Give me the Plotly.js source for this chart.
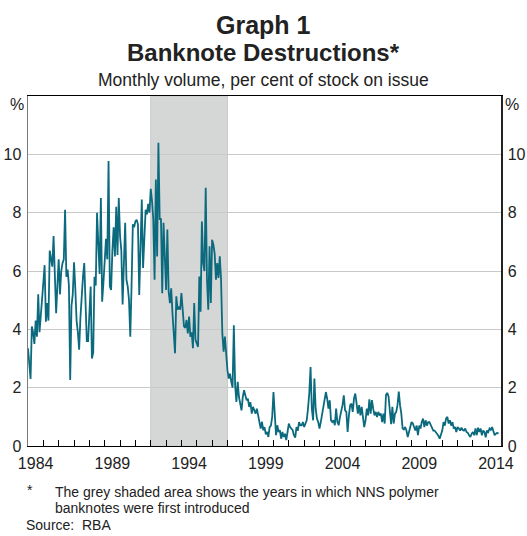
<!DOCTYPE html>
<html>
<head>
<meta charset="utf-8">
<script src="https://cdn.plot.ly/plotly-3.0.1.min.js"></script>
<style>html,body{margin:0;padding:0;background:#fff;}#chart{width:527px;height:536px;}</style>
</head>
<body>
<div id="chart"></div>
<script>
// ---- data ----
const startYear = 1984;           // first observation: January 1984, monthly
const volume = [
  3.35, 2.9, 2.3, 4.1, 3.9, 3.5, 4.3, 3.75, 5.2, 3.9, 4.6, 5.1,          // 1984
  5.6, 6.2, 4.26, 4.9, 4.3, 6.7, 6.4, 6.15, 7.2, 6.15, 4.55, 5.5,        // 1985
  6.4, 5.2, 6.0, 6.27, 6.4, 8.1, 5.8, 6.05, 5.5, 2.26, 4.8, 5.2,         // 1986
  6.3, 5.4, 4.3, 3.9, 3.3, 4.4, 5.3, 5.8, 6.27, 4.5, 3.6, 3.6,           // 1987
  4.6, 5.47, 3.0, 3.2, 5.8, 5.5, 8.0, 6.8, 5.9, 8.5, 4.95, 5.6,         // 1988
  6.27, 7.1, 6.4, 9.77, 5.47, 5.35, 6.7, 7.5, 6.5, 8.2, 6.55, 8.5,      // 1989
  7.2, 6.7, 4.85, 6.5, 7.65, 5.7, 5.47, 5.0, 3.75, 5.5, 7.6, 7.5,       // 1990
  7.7, 7.76, 7.6, 5.18, 7.07, 8.45, 6.1, 7.0, 8.1, 7.94, 8.3, 8.0,      // 1991
  8.82, 8.4, 7.76, 5.7, 9.14, 6.5, 10.4, 7.76, 7.8, 5.24, 7.65, 6.5,    // 1992
  5.35, 7.42, 5.3, 4.9, 5.41, 4.55, 3.9, 3.18, 5.13, 4.67, 4.78, 4.67,  // 1993
  5.24, 4.44, 4.1, 4.05, 4.32, 3.86, 4.44, 3.75, 3.9, 3.35, 4.9, 3.64,  // 1994
  3.52, 3.4, 5.81, 4.6, 7.7, 6.27, 6.0, 8.85, 5.7, 4.67, 6.85, 4.9,     // 1995
  7.07, 6.9, 6.6, 5.7, 6.27, 5.76, 6.5, 5.7, 3.86, 3.23, 3.75, 2.95,    // 1996
  2.6, 2.31, 2.48, 2.2, 2.0, 4.14, 2.08, 1.51, 2.2, 1.68, 1.4, 1.22,    // 1997
  1.68, 1.91, 1.74, 1.57, 1.62, 1.34, 1.5, 1.11, 1.34, 1.22, 1.11, 1.28,// 1998
  1.05, 0.88, 0.6, 0.83, 0.54, 0.65, 0.4, 0.48, 0.31, 0.65, 0.7, 1.0,   // 1999
  1.85, 1.11, 0.37, 0.71, 0.48, 0.54, 0.25, 0.48, 0.31, 0.42, 0.2, 0.48,// 2000
  0.77, 0.65, 0.6, 0.54, 0.37, 0.29, 0.65, 0.52, 0.82, 0.71, 0.71, 0.82,// 2001
  0.65, 0.77, 0.88, 1.28, 1.8, 2.71, 1.28, 0.88, 2.31, 1.28, 0.94, 0.82,// 2002
  0.6, 0.82, 1.05, 1.34, 1.62, 1.85, 1.62, 1.28, 1.57, 0.88, 0.82, 0.88,// 2003
  0.71, 1.28, 0.82, 0.71, 0.99, 1.17, 1.4, 1.74, 1.22, 1.17, 0.48, 1.05,// 2004
  1.4, 1.45, 1.17, 1.63, 1.8, 1.45, 1.11, 1.4, 1.05, 1.34, 0.88, 0.65,  // 2005
  0.88, 1.28, 1.05, 1.6, 1.11, 1.57, 1.28, 1.05, 1.17, 0.99, 1.17, 1.05,// 2006
  1.11, 0.82, 1.11, 0.77, 1.75, 1.82, 1.7, 1.2, 0.75, 1.34, 0.77, 1.1,  // 2007
  1.17, 1.4, 1.87, 1.4, 1.1, 0.6, 0.57, 0.65, 0.53, 0.31, 0.48, 0.6,    // 2008
  0.82, 0.77, 0.65, 0.53, 0.7, 0.37, 0.7, 0.6, 0.82, 0.94, 0.65, 0.88,  // 2009
  0.7, 0.82, 0.82, 0.7, 0.6, 0.53, 0.53, 0.48, 0.42, 0.35, 0.25, 0.42,  // 2010
  0.53, 0.82, 0.7, 0.94, 1.0, 0.77, 0.88, 0.7, 0.82, 0.6, 0.65, 0.48,   // 2011
  0.65, 0.6, 0.53, 0.63, 0.55, 0.53, 0.6, 0.48, 0.45, 0.37, 0.31, 0.42, // 2012
  0.48, 0.37, 0.6, 0.37, 0.63, 0.48, 0.6, 0.37, 0.53, 0.48, 0.3, 0.53,  // 2013
  0.48, 0.6, 0.55, 0.65, 0.5, 0.37, 0.42, 0.45, 0.42                     // 2014
];
const shadeYears = [1992, 1997];          // NNS polymer introduction period
const xRange = [1984, 2014.83];
const yRange = [0, 12];
const yTicks = [0, 2, 4, 6, 8, 10];
const xLabelYears = [1984, 1989, 1994, 1999, 2004, 2009, 2014];
const titleText = 'Graph 1';
const subtitleText = 'Banknote Destructions*';
const unitText = 'Monthly volume, per cent of stock on issue';
const noteLines = ['The grey shaded area shows the years in which NNS polymer', 'banknotes were first introduced'];
const sourceText = 'RBA';

// ---- derived ----
const xs = volume.map((v, i) => startYear + i / 12);
const tickYears = [];
for (let y = Math.ceil(xRange[0]) + 1; y <= Math.floor(xRange[1]); y++) tickYears.push(y);
const labelPos = xLabelYears.map(y => y + 0.5);
const labelText = xLabelYears.map(String);

const W = 527, H = 536, L = 28, R = 26, T = 96, B = 90;
const pw = W - L - R, ph = H - T - B;
const px = x => (x - L) / pw;
const py = y => (H - B - y) / ph;
const FONT = 'Arial, "Liberation Sans", Helvetica, sans-serif';
const TXT = '#222';

const traces = [
  {x: xs, y: volume, type: 'scatter', mode: 'lines',
   line: {color: '#0b6a7e', width: 1.8}, hoverinfo: 'skip', showlegend: false},
  {x: [xRange[0]], y: [0], xaxis: 'x2', yaxis: 'y2', type: 'scatter', mode: 'markers',
   marker: {opacity: 0}, hoverinfo: 'skip', showlegend: false}
];

function ann(text, x, y, size, xanchor, bold) {
  return {text: bold ? '<b>' + text + '</b>' : text, xref: 'paper', yref: 'paper',
    x: px(x), y: py(y), xanchor: xanchor || 'center', yanchor: 'middle',
    showarrow: false, font: {family: FONT, size: size, color: TXT}, align: 'left'};
}

const layout = {
  width: W, height: H,
  margin: {l: L, r: R, t: T, b: B, pad: 0},
  paper_bgcolor: '#ffffff', plot_bgcolor: '#ffffff',
  font: {family: FONT, color: TXT, size: 16},
  showlegend: false,
  xaxis: {range: xRange, tickvals: labelPos, ticktext: labelText, ticks: '',
    showgrid: false, zeroline: false, showline: true, linecolor: '#000', linewidth: 1,
    mirror: true, tickfont: {family: FONT, size: 16, color: TXT}, ticklabelstandoff: 3, fixedrange: true},
  xaxis2: {overlaying: 'x', anchor: 'y', range: xRange, tickvals: tickYears, ticks: 'inside',
    ticklen: 6, tickwidth: 1, tickcolor: '#000', showticklabels: false, showgrid: false,
    zeroline: false, showline: false, fixedrange: true},
  yaxis: {range: yRange, tickvals: yTicks, ticks: '', showgrid: true, gridcolor: '#c9c9c9',
    gridwidth: 1, zeroline: false, showline: true, linecolor: '#7a7a7a', linewidth: 1.5,
    tickfont: {family: FONT, size: 16, color: TXT}, ticklabelstandoff: 2, fixedrange: true},
  yaxis2: {overlaying: 'y', side: 'right', anchor: 'x', range: yRange, tickvals: yTicks, ticks: '',
    showgrid: false, zeroline: false, showline: true, linecolor: '#222', linewidth: 1.5,
    tickfont: {family: FONT, size: 16, color: TXT}, ticklabelstandoff: 2, fixedrange: true},
  shapes: [{type: 'rect', xref: 'x', yref: 'paper', x0: shadeYears[0], x1: shadeYears[1],
    y0: 0, y1: 1, fillcolor: '#d5d7d7', line: {width: 1, color: '#c8caca'}, layer: 'below'}],
  annotations: [
    ann(titleText, 263.5, 25, 25, 'center', true),
    ann(subtitleText, 263.5, 52, 24, 'center', true),
    ann(unitText, 263.5, 80, 17.5, 'center', false),
    ann('%', 17, 104, 16, 'center', false),
    ann('%', 512, 104, 16, 'center', false),
    ann('*', 25, 490, 14, 'left', false),
    ann(noteLines[0], 53, 492, 14, 'left', false),
    ann(noteLines[1], 53, 508, 14, 'left', false),
    ann('Source:', 24, 525, 14, 'left', false),
    ann(sourceText, 80, 525, 14, 'left', false)
  ]
};

Plotly.newPlot('chart', traces, layout, {staticPlot: true, displayModeBar: false});
</script>
</body>
</html>
